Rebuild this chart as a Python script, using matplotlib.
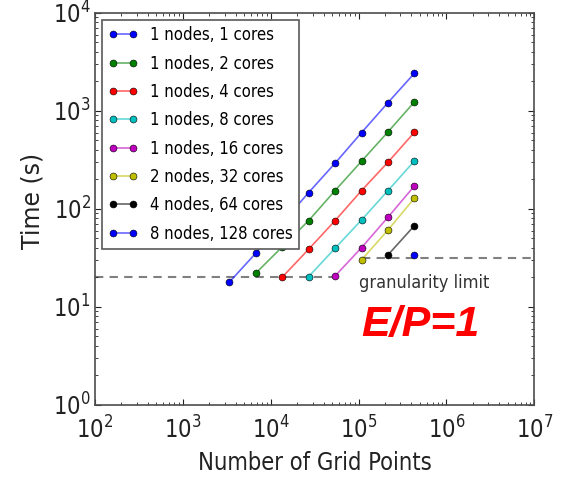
import numpy as np
import matplotlib
matplotlib.use('Agg')
import matplotlib.pyplot as plt

# number of grid points (doubling each step)
grid_points = [3375, 6750, 13500, 27000, 54000, 108000, 216000, 432000]

labels = ["1 nodes, 1 cores", "1 nodes, 2 cores", "1 nodes, 4 cores",
          "1 nodes, 8 cores", "1 nodes, 16 cores", "2 nodes, 32 cores",
          "4 nodes, 64 cores", "8 nodes, 128 cores"]

# index of the first grid size each run starts at
start = [0, 1, 2, 3, 4, 5, 6, 7]

# time (s)
t_1 = [17.9, 35.3, 72, 147, 293, 601, 1216, 2426]
t_2 = [22.1, 41, 76, 154, 307, 611, 1238]
t_4 = [20.1, 38.8, 76, 154, 300, 606]
t_8 = [20.4, 39.7, 77.2, 154, 309]
t_16 = [20.7, 40.3, 82.3, 172]
t_32 = [30.2, 61, 129]
t_64 = [34, 67.6]
t_128 = [34]
times = [t_1, t_2, t_4, t_8, t_16, t_32, t_64, t_128]

# granularity limit lines
gran_low_x = [100, 54000]
gran_low_y = [20.4, 20.4]
gran_high_x = [108000, 1e7]
gran_high_y = [31.8, 31.8]

colors = [(0, 0, 1), (0, 0.5, 0), (1, 0, 0), (0, 0.75, 0.75),
          (0.75, 0, 0.75), (0.75, 0.75, 0), (0, 0, 0), (0, 0, 1)]

plt.rcParams['font.family'] = ['DejaVu Sans']
plt.rcParams['font.stretch'] = 'condensed'
plt.rcParams['mathtext.fontset'] = 'dejavusans'

fig = plt.figure(figsize=(5.62, 4.79), dpi=100, facecolor='white')
ax = fig.add_axes([0.169, 0.1545, 0.7817, 0.8184])

for i in range(len(times)):
    x = grid_points[start[i]:start[i] + len(times[i])]
    c = colors[i]
    ax.plot(x, times[i], '-o', color=c + (0.6,), lw=1.2,
            marker='o', ms=5, mfc=c, mec='k', mew=0.4, label=labels[i])

ax.plot(gran_low_x, gran_low_y, ls=(0, (4, 3)), color='gray', lw=1.5, zorder=1)
ax.plot(gran_high_x, gran_high_y, ls=(0, (4, 3)), color='gray', lw=1.5, zorder=1)

ax.text(1e5, 15.8, "granularity limit", fontsize=13, color='#333333',
        ha='left', va='baseline')
ax.text(1.07e5, 5.0, "E/P=1", fontsize=31, color='red', family='Liberation Sans',
        fontweight='bold', fontstyle='italic', stretch='normal',
        ha='left', va='baseline')

ax.set_xscale('log')
ax.set_yscale('log')
ax.set_xlim(1e2, 1e7)
ax.set_ylim(1e0, 1e4)

ax.tick_params(which='both', direction='in', top=True, right=True, colors='#222222')
ax.tick_params(which='major', length=4, labelsize=17)
ax.tick_params(which='minor', length=2)
ax.tick_params(axis='x', pad=8)
ax.tick_params(axis='y', pad=3)
for s in ax.spines.values():
    s.set_color('0.3')
    s.set_linewidth(1.2)

ax.set_xlabel("Number of Grid Points", fontsize=17, color='#222222')
ax.set_ylabel("Time (s)", fontsize=17, color='#222222', stretch='normal')
ax.xaxis.set_label_coords(0.5, -0.117)
ax.yaxis.set_label_coords(-0.116, 0.52)

leg = ax.legend(loc='upper left', fontsize=12, numpoints=2, handlelength=1.8,
                handletextpad=0.7, labelspacing=0.62, borderpad=0.4,
                borderaxespad=0.4, fancybox=False, framealpha=1)
leg.get_frame().set_edgecolor('0.35')
leg.get_frame().set_linewidth(1.2)

fig.savefig('out.png', dpi=100, facecolor='white')
